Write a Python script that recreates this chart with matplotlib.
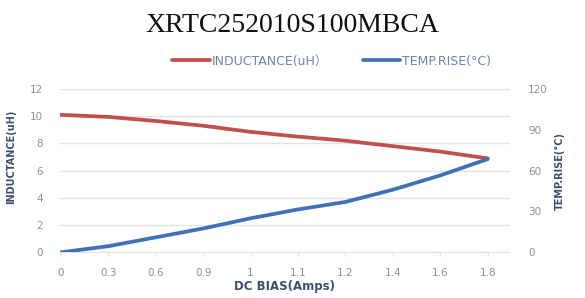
import matplotlib
matplotlib.use("Agg")
import matplotlib.pyplot as plt

# data
dc_bias = ['0', '0.3', '0.6', '0.9', '1', '1.1', '1.2', '1.4', '1.6', '1.8']
inductance = [10.1, 9.95, 9.65, 9.3, 8.85, 8.5, 8.2, 7.8, 7.4, 6.9]
temp_rise = [0, 4.5, 11, 17.5, 25, 31.5, 37, 46, 56.5, 68.5]

red = '#c0504d'
blue = '#4270b6'
tick_col = '#8c9097'
label_col = '#3b5070'
grid_col = '#dfe4ea'

plt.rcParams['font.family'] = ['DejaVu Sans', 'Noto Sans CJK SC']

fig = plt.figure(figsize=(5.85, 2.98), dpi=100)
ax = fig.add_axes([60 / 585, 1 - 252.3 / 298, 450 / 585, (252.3 - 89) / 298])
ax2 = ax.twinx()

x = range(len(dc_bias))
l1, = ax.plot(x, inductance, color=red, lw=2.7, solid_capstyle='round', zorder=3)
l2, = ax2.plot(x, temp_rise, color=blue, lw=2.7, solid_capstyle='round', zorder=3)

ax.set_xlim(-0.02, 9.47)
ax.set_ylim(0, 12)
ax2.set_ylim(0, 120)
ax.set_yticks(range(0, 13, 2))
ax2.set_yticks(range(0, 121, 30))
ax.set_xticks(list(x))
ax.set_xticklabels(dc_bias)

ax.grid(axis='y', color=grid_col, lw=1)
ax.set_axisbelow(True)
for a in (ax, ax2):
    for s in ('top', 'left', 'right'):
        a.spines[s].set_visible(False)
    a.spines['bottom'].set_color(grid_col)
ax2.spines['bottom'].set_visible(False)

ax.tick_params(axis='x', colors=grid_col, length=3, width=1, labelcolor=tick_col, labelsize=7.5, pad=8)
ax.tick_params(axis='y', length=0, labelcolor=tick_col, labelsize=7.5, pad=12)
ax2.tick_params(axis='y', length=0, labelcolor=tick_col, labelsize=7.5, pad=13)

ax.set_xlabel('DC BIAS(Amps)', color=label_col, fontsize=8.5, fontweight='bold', labelpad=2)
ax.set_ylabel('INDUCTANCE(uH)', color=label_col, fontsize=7, fontweight='bold')
ax.yaxis.set_label_coords(-0.098, 0.584)
ax2.set_ylabel('TEMP.RISE(°C)', color=label_col, fontsize=7, fontweight='bold')
ax2.yaxis.set_label_coords(1.1, 0.497)

fig.text(0.5, 0.913, 'XRTC252010S100MBCA', ha='center', va='center',
         fontsize=20, family='Liberation Serif', color='#111111')

fig.legend([l1, l2], ['INDUCTANCE(uH）', 'TEMP.RISE(°C)'], loc='center left',
           bbox_to_anchor=(172 / 585, 1 - 61 / 298), ncol=2, frameon=False, fontsize=9,
           borderpad=0, borderaxespad=0, handlelength=3.0, handletextpad=0.15,
           columnspacing=2.8, labelcolor='#6f84a3')

fig.savefig('out.png', dpi=100)
